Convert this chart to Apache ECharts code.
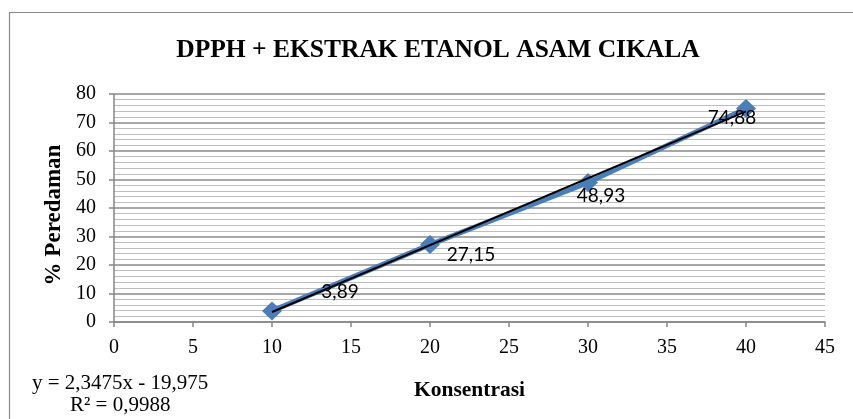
<!DOCTYPE html>
<html>
<head>
<meta charset="utf-8">
<script src="https://cdn.jsdelivr.net/npm/echarts@6/dist/echarts.min.js"></script>
<style>
  html, body { margin: 0; padding: 0; background: #fff; }
  #chart { width: 853px; height: 419px; }
</style>
</head>
<body>
<div id="chart"></div>
<script>
// Concentration (x) and inhibition percentage (y)
const konsentrasi = [10, 20, 30, 40];
const peredaman = [3.89, 27.15, 48.93, 74.88];

// Linear trend: y = slope * x + intercept
const slope = 2.3475;
const intercept = -19.975;
const rSquared = 0.9988;

const xTicks = [0, 45, 5];   // min, max, interval
const yTicks = [0, 80, 10];

// Where each value label sits relative to its point
const labelOffsets = [[68, -19], [41, 10], [13, 13], [-14, 9]];

const fmt = (v, d) => v.toFixed(d).replace('.', ',');
const serif = '"Liberation Serif", "Times New Roman", serif';

const trendData = [konsentrasi[0], konsentrasi[konsentrasi.length - 1]]
  .map(x => [x, slope * x + intercept]);

const chart = echarts.init(document.getElementById('chart'));
chart.setOption({
  animation: false,
  backgroundColor: '#fff',
  title: {
    text: 'DPPH + EKSTRAK ETANOL ASAM CIKALA',
    left: 433, top: 32, textAlign: 'center',
    textStyle: { fontFamily: serif, fontWeight: 'bold', fontSize: 25.5, color: '#000' }
  },
  graphic: [
    { type: 'rect', shape: { x: 9.5, y: 12.5, width: 900, height: 500 },
      style: { fill: 'none', stroke: '#898989', lineWidth: 1.2 }, silent: true },
    { type: 'text', left: 32, top: 373,
      style: { text: 'y = ' + fmt(slope, 4) + 'x - ' + fmt(-intercept, 3),
               font: '21px ' + serif, fill: '#000' } },
    { type: 'text', left: 70, top: 395,
      style: { text: 'R² = ' + fmt(rSquared, 4), font: '21px ' + serif, fill: '#000' } }
  ],
  grid: { left: 114, right: 28, top: 94, bottom: 97 },
  xAxis: {
    type: 'value', min: xTicks[0], max: xTicks[1], interval: xTicks[2],
    name: 'Konsentrasi', nameLocation: 'middle', nameGap: 57,
    nameTextStyle: { fontFamily: serif, fontWeight: 'bold', fontSize: 21.5, color: '#000' },
    axisLine: { show: true, lineStyle: { color: '#868686', width: 1.5 } },
    axisTick: { show: true, length: 5, lineStyle: { color: '#868686', width: 1.5 } },
    axisLabel: { fontFamily: serif, fontSize: 20, color: '#000', margin: 16 },
    splitLine: { show: false }
  },
  yAxis: {
    type: 'value', min: yTicks[0], max: yTicks[1], interval: yTicks[2],
    name: '% Peredaman', nameLocation: 'middle', nameGap: 42, nameRotate: 90,
    nameTextStyle: { fontFamily: serif, fontWeight: 'bold', fontSize: 23, color: '#000',
                     padding: [0, 14, 0, 0] },
    axisLine: { show: true, lineStyle: { color: '#868686', width: 1.5 } },
    axisTick: { show: true, length: 5, lineStyle: { color: '#868686', width: 1.5 } },
    axisLabel: { fontFamily: serif, fontSize: 20, color: '#000', margin: 18 },
    splitLine: { show: true, lineStyle: { color: '#8a8a8a', width: 1.5 } },
    minorTick: { show: false, splitNumber: 5 },
    minorSplitLine: { show: true, lineStyle: { color: '#bdbdbd', width: 1.2 } }
  },
  series: [
    {
      type: 'line',
      data: konsentrasi.map((x, i) => ({
        value: [x, peredaman[i]],
        label: { offset: labelOffsets[i] }
      })),
      symbol: 'diamond', symbolSize: [20, 19],
      lineStyle: { color: '#4a7ebb', width: 5 },
      itemStyle: { color: '#4a7ebb' },
      label: {
        show: true, position: 'inside',
        formatter: p => fmt(p.value[1], 2),
        fontFamily: 'Lato, "Open Sans", sans-serif', fontSize: 19, color: '#000'
      },
      z: 2
    },
    {
      type: 'line',
      data: trendData,
      symbol: 'none',
      lineStyle: { color: '#000', width: 2 },
      z: 3
    }
  ]
});
</script>
</body>
</html>
